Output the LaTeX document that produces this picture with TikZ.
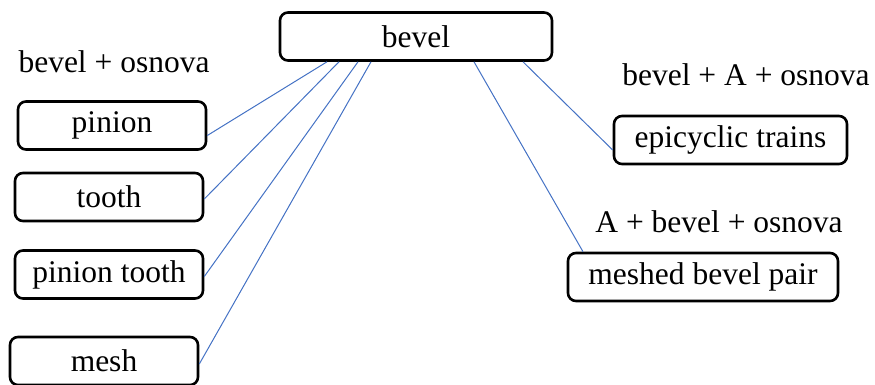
\documentclass[tikz,border=0pt]{standalone}
\usepackage{fontspec}
\setmainfont{Liberation Serif}
\begin{document}
\begin{tikzpicture}[x=1pt,y=-1pt,
  box/.style={draw=black,line width=2.6pt,rounded corners=8pt,inner sep=0pt,
    minimum height=48pt,font=\fontsize{31.5}{36}\selectfont},
  lab/.style={inner sep=0pt,font=\fontsize{31.5}{36}\selectfont}]
\definecolor{linkblue}{HTML}{4472C4}
\tikzset{link/.style={draw=linkblue,line width=1pt}}
\useasboundingbox (0,0) rectangle (875,385);
\clip (0,0) rectangle (875,385);
\node[box,minimum width=272pt] (bevel) at (416,36.5) {bevel};
\node[box,minimum width=188pt] (pinion) at (112,125.5) {pinion};
\node[box,minimum width=188pt] (tooth) at (109,197) {tooth};
\node[box,minimum width=188pt] (ptooth) at (109,274.5) {pinion tooth};
\node[box,minimum width=188pt] (mesh) at (104,361) {mesh};
\node[box,minimum width=233pt] (epi) at (730.5,140) {epicyclic trains};
\node[box,minimum width=270pt] (mbp) at (703,277) {meshed bevel pair};
\node[lab] (l1) at (114,62) {bevel + osnova};
\node[lab] (l2) at (746,75) {bevel + A + osnova};
\node[lab] (l3) at (719,222) {A + bevel + osnova};
\draw[link] ([xshift=-89pt]bevel.south) -- ([yshift=-10pt]pinion.east);
\draw[link] ([xshift=-77pt]bevel.south) -- ([yshift=-2pt]tooth.east);
\draw[link] ([xshift=-58pt]bevel.south) -- ([yshift=-2pt]ptooth.east);
\draw[link] ([xshift=-45pt]bevel.south) -- ([yshift=-3pt]mesh.east);
\draw[link] ([xshift=58pt]bevel.south) -- ([xshift=-120pt]mbp.north);
\draw[link] ([xshift=107pt]bevel.south) -- ([yshift=-10pt]epi.west);
\end{tikzpicture}
\end{document}
